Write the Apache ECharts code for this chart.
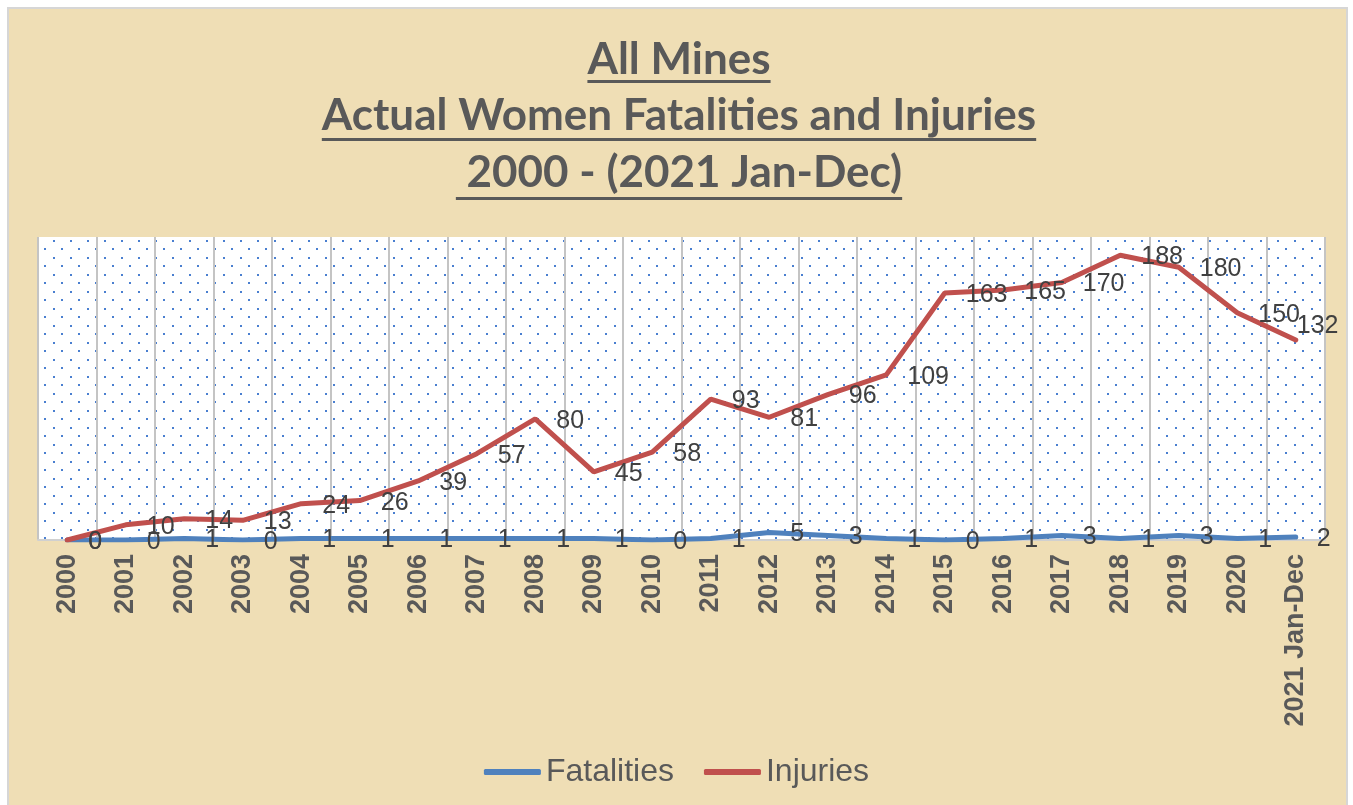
<!DOCTYPE html>
<html><head><meta charset="utf-8">
<script src="https://cdn.jsdelivr.net/npm/echarts@6/dist/echarts.min.js"></script>
<style>html,body{margin:0;padding:0;background:#fff;} #chart{width:1353px;height:805px;}</style>
</head><body><div id="chart"></div>
<script>
const titleLines = ['All Mines', 'Actual Women Fatalities and Injuries', ' 2000 - (2021 Jan-Dec)'];
const categories = ['2000','2001','2002','2003','2004','2005','2006','2007','2008','2009','2010','2011','2012','2013','2014','2015','2016','2017','2018','2019','2020','2021 Jan-Dec'];
const fatalities = [0,0,1,0,1,1,1,1,1,1,0,1,5,3,1,0,1,3,1,3,1,2];
const injuries = [0,10,14,13,24,26,39,57,80,45,58,93,81,96,109,163,165,170,188,180,150,132];
const seriesNames = ['Fatalities', 'Injuries'];

// dotted plot-area fill
const pc = document.createElement('canvas');
pc.width = 17; pc.height = 17;
const pg = pc.getContext('2d');
pg.fillStyle = '#ffffff'; pg.fillRect(0, 0, 17, 17);
pg.fillStyle = '#4a7fd0';
pg.fillRect(2, 2, 2, 2);
pg.fillRect(10, 10, 2, 2);

const titleFontSize = 44;
const titleFont = 'bold ' + titleFontSize + 'px Lato';
const titleCenterX = 679;
const capCenters = [60.5, 117, 173.5];
const underlineY = [80, 138, 197];
const mc = document.createElement('canvas').getContext('2d');
mc.font = titleFont;
const titles = [];
const graphics = [{
  type: 'rect', silent: true, z: -10,
  shape: {x: 8, y: 8, width: 1339, height: 800},
  style: {fill: '#efdeb5', stroke: '#d6d6d6', lineWidth: 2}
}];
titleLines.forEach((t, i) => {
  const w = mc.measureText(t).width;
  titles.push({
    text: t, left: titleCenterX - w / 2, top: capCenters[i] - titleFontSize / 2 - 1, padding: 0,
    textStyle: {fontFamily: 'Lato', fontWeight: 'bold', fontSize: titleFontSize, color: '#595959'}
  });
  graphics.push({
    type: 'rect', silent: true,
    shape: {x: titleCenterX - w / 2, y: underlineY[i], width: w, height: 3},
    style: {fill: '#595959'}
  });
});

const labelBase = {show: true, position: 'right', distance: 21, fontSize: 25, color: '#404040', fontFamily: 'Liberation Sans', offset: [0, 2]};

const injuryData = injuries.map((v, i) => i === injuries.length - 1
  ? {value: v, label: {offset: [-20, -14]}} : v);

const chart = echarts.init(document.getElementById('chart'));
chart.setOption({
  animation: false,
  backgroundColor: '#ffffff',
  title: titles,
  graphic: graphics,
  legend: {
    data: seriesNames, left: 'center', top: 751, icon: 'roundRect',
    itemWidth: 57, itemHeight: 6, itemGap: 30,
    textStyle: {fontSize: 32, color: '#595959', fontFamily: 'Liberation Sans'}
  },
  grid: {
    left: 38, right: 28, top: 237, bottom: 265, show: true,
    backgroundColor: {image: pc, repeat: 'repeat'}, borderWidth: 0
  },
  xAxis: {
    type: 'category', data: categories, boundaryGap: true,
    axisLine: {lineStyle: {color: '#d0d0d0', width: 2}},
    axisTick: {show: false},
    splitLine: {show: true, interval: 0, lineStyle: {color: '#c4c4c4', width: 2}},
    axisLabel: {rotate: 90, interval: 0, fontSize: 27, fontWeight: 'bold', color: '#595959', fontFamily: 'Liberation Sans', margin: 14}
  },
  yAxis: {type: 'value', min: 0, max: 200, show: false, splitLine: {show: false}},
  series: [
    {name: seriesNames[0], type: 'line', data: fatalities, symbol: 'circle', symbolSize: 0.1,
     lineStyle: {color: '#4f81bd', width: 5, cap: 'round'}, itemStyle: {color: '#4f81bd'},
     label: labelBase},
    {name: seriesNames[1], type: 'line', data: injuryData, symbol: 'circle', symbolSize: 0.1,
     lineStyle: {color: '#c0504d', width: 5, cap: 'round'}, itemStyle: {color: '#c0504d'},
     label: labelBase}
  ]
});
</script></body></html>
